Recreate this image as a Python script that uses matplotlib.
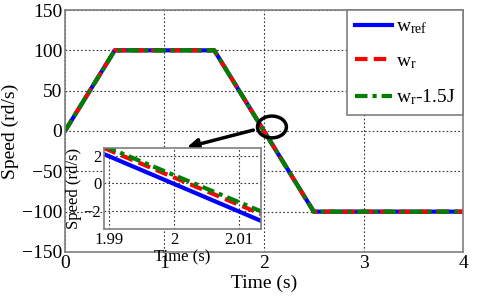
import matplotlib
matplotlib.use("Agg")
import matplotlib.pyplot as plt
from matplotlib.patches import Ellipse

plt.rcParams['font.family'] = ['Liberation Serif', 'DejaVu Serif']
plt.rcParams['mathtext.fontset'] = 'custom'
plt.rcParams['mathtext.rm'] = 'Liberation Serif'
plt.rcParams['mathtext.it'] = 'Liberation Serif:italic'

# full profile
time = [0, 0.5, 1.5, 2.5, 4.0]
w_ref = [0, 100, 100, -100, -100]
w_r = [0, 100, 100, -100, -100]
w_r_j = [0, 100, 100, -100, -100]

# zoom around the zero crossing
time_zoom = [1.9892, 2.0134]
w_ref_zoom = [2.15, -2.75]
w_r_zoom = [2.6, -2.25]
w_r_j_zoom = [2.75, -2.05]

labels = ['w$_{\\rm ref}$', 'w$_{\\rm r}$', 'w$_{\\rm r}$-1.5J']

BLUE = '#0000ff'
RED = '#ff0000'
GREEN = '#007f00'
SPINE = '#7f7f7f'

fig = plt.figure(figsize=(4.8, 3.06), dpi=100)
ax = fig.add_axes([0.1354, 0.1765, 0.8292, 0.7908])

lw = 3
ax.plot(time, w_ref, color=BLUE, lw=lw, label=labels[0])
ax.plot(time, w_r, color=RED, lw=lw, ls=(0, (3, 1.5)), label=labels[1])
ax.plot(time, w_r_j, color=GREEN, lw=lw, ls=(0, (3, 1.2, 1, 1.2)), label=labels[2])

ax.set_xlim(0, 4)
ax.set_ylim(-150, 150)
ax.set_xticks([0, 1, 2, 3, 4])
ax.set_yticks([-150, -100, -50, 0, 50, 100, 150])
ax.grid(True, ls=(0, (1.5, 2)), color='#333333', lw=0.8)
ax.tick_params(labelsize=14, length=0, pad=2)
ax.set_xlabel('Time (s)', fontsize=14, labelpad=2)
ax.set_ylabel('Speed (rd/s)', fontsize=14, labelpad=2)
for s in ax.spines.values():
    s.set_color(SPINE)
    s.set_linewidth(1.2)

leg = ax.legend(loc='upper right', bbox_to_anchor=(1.0, 1.0), borderaxespad=0,
                fontsize=14, fancybox=False, framealpha=1, edgecolor=SPINE,
                handlelength=1.9, labelspacing=0.85, borderpad=0.4, handletextpad=0.2)
leg.get_frame().set_linewidth(1.2)

# circle + arrow to the zoom
ax.add_patch(Ellipse((2.08, 5), 0.29, 27, fill=False, ec='black', lw=2.5, zorder=6))
ax.annotate('', xy=(1.2, -21), xytext=(1.92, 2),
            arrowprops=dict(arrowstyle='-|>', color='black', lw=2.5, mutation_scale=16),
            zorder=6)

ins = fig.add_axes([0.2167, 0.2516, 0.327, 0.2647])
ins.plot(time_zoom, w_ref_zoom, color=BLUE, lw=lw)
ins.plot(time_zoom, w_r_zoom, color=RED, lw=lw, ls=(0, (3, 1.5)))
ins.plot(time_zoom, w_r_j_zoom, color=GREEN, lw=lw, ls=(0, (3, 1.2, 1, 1.2)))
ins.set_xlim(1.9892, 2.0134)
ins.set_ylim(-3.35, 2.6)
ins.set_xticks([1.99, 2.0, 2.01])
ins.set_xticklabels(['1.99', '2', '2.01'])
ins.set_yticks([-2, 0, 2])
ins.grid(True, ls=(0, (1.5, 2)), color='#333333', lw=0.8)
ins.tick_params(labelsize=12, length=0, pad=2)
ins.set_xlabel('Time (s)', fontsize=12, labelpad=1)
ins.set_ylabel('Speed (rd/s)', fontsize=12, labelpad=1)
for s in ins.spines.values():
    s.set_color(SPINE)
    s.set_linewidth(1.2)

fig.savefig('out.png', dpi=100)
